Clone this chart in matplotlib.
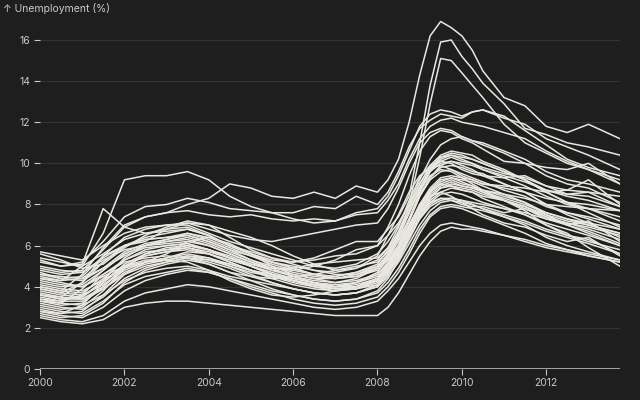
import matplotlib
matplotlib.use("Agg")
import matplotlib.pyplot as plt
import matplotlib.dates as mdates
import pandas as pd

# ---- data ----
dates = ["2000-01", "2000-07", "2001-01", "2001-07", "2002-01", "2002-07",
         "2003-01", "2003-07", "2004-01", "2004-07", "2005-01", "2005-07",
         "2006-01", "2006-07", "2007-01", "2007-07", "2008-01", "2008-04",
         "2008-07", "2008-10", "2009-01", "2009-04", "2009-07", "2009-10",
         "2010-01", "2010-04", "2010-07", "2011-01", "2011-07", "2012-01",
         "2012-07", "2013-01", "2013-10"]

peak_1 = [4.0, 3.8, 4.6, 5.9, 7.0, 7.4, 7.6, 8.0, 8.3, 9.0, 8.8, 8.4, 8.3, 8.6, 8.3, 8.9, 8.6, 9.2,
          10.2, 12.0, 14.3, 16.2, 16.9, 16.6, 16.2, 15.5, 14.5, 13.2, 12.8, 11.8, 11.5, 11.9, 11.2]
peak_2 = [3.6, 3.5, 4.2, 5.2, 6.0, 6.3, 6.4, 6.6, 6.4, 6.0, 5.6, 5.3, 5.2, 5.4, 5.8, 6.2, 6.2, 6.8,
          7.4, 8.4, 11.0, 13.8, 15.9, 16.0, 15.2, 14.6, 13.9, 12.9, 11.7, 11.4, 11.0, 10.8, 10.4]
peak_3 = [3.3, 3.2, 3.9, 4.8, 5.6, 6.0, 6.1, 6.2, 6.0, 5.6, 5.2, 4.9, 4.8, 5.0, 5.3, 5.8, 6.0, 6.5,
          7.1, 8.0, 10.3, 12.9, 15.1, 15.0, 14.4, 13.8, 13.2, 11.9, 11.0, 10.5, 10.0, 9.7, 9.2]
high_1 = [4.4, 4.3, 5.0, 6.6, 9.2, 9.4, 9.4, 9.6, 9.2, 8.4, 7.9, 7.6, 7.3, 7.1, 7.2, 7.6, 7.8, 8.4,
          9.4, 10.6, 11.8, 12.4, 12.6, 12.5, 12.3, 12.5, 12.6, 12.3, 11.6, 10.9, 10.2, 9.8, 9.4]
high_2 = [5.3, 5.0, 5.2, 6.2, 7.4, 7.9, 8.0, 8.3, 8.1, 7.8, 7.7, 7.6, 7.6, 7.9, 7.8, 8.4, 8.0, 8.6,
          9.6, 10.8, 11.7, 12.1, 12.4, 12.3, 12.2, 12.5, 12.6, 12.2, 11.9, 11.2, 10.8, 10.4, 9.7]
high_3 = [4.9, 4.7, 4.8, 5.8, 6.9, 7.4, 7.6, 7.7, 7.5, 7.4, 7.5, 7.3, 7.2, 7.3, 7.2, 7.5, 7.6, 8.2,
          9.0, 10.2, 11.2, 11.8, 12.1, 12.2, 12.0, 11.9, 11.8, 11.5, 11.2, 10.6, 10.1, 9.7, 9.0]
high_4 = [4.6, 4.4, 4.5, 5.5, 6.4, 6.8, 7.0, 7.1, 6.8, 6.5, 6.3, 6.2, 6.4, 6.6, 6.8, 7.0, 7.1, 7.8,
          8.8, 10.0, 11.0, 11.5, 11.7, 11.6, 11.3, 11.1, 11.0, 10.6, 10.2, 9.6, 9.2, 9.0, 8.6]
mid_01 = [5.7, 5.5, 5.3, 6.0, 6.6, 6.9, 7.0, 7.0, 6.6, 6.2, 5.9, 5.6, 5.3, 5.0, 4.9, 5.1, 5.6, 6.2,
          7.0, 8.0, 9.2, 10.2, 10.9, 11.2, 11.3, 11.1, 10.9, 10.5, 10.0, 9.4, 9.0, 8.8, 8.1]
mid_02 = [5.4, 5.2, 5.0, 5.6, 6.3, 6.6, 6.8, 6.9, 6.5, 6.0, 5.7, 5.4, 5.1, 4.8, 4.7, 4.9, 5.3, 5.9,
          6.6, 7.6, 8.8, 9.7, 10.3, 10.5, 10.4, 10.2, 10.0, 9.6, 9.2, 8.7, 8.4, 8.2, 7.7]
mid_03 = [5.2, 5.0, 5.1, 7.8, 6.9, 6.6, 6.7, 6.8, 6.5, 6.0, 5.6, 5.2, 4.9, 4.6, 4.5, 4.7, 5.0, 5.6,
          6.3, 7.3, 8.5, 9.3, 9.8, 9.9, 9.8, 9.6, 9.5, 9.0, 8.6, 8.0, 7.6, 7.3, 6.8]
mid_04 = [5.0, 4.8, 4.7, 5.4, 6.0, 6.3, 6.4, 6.5, 6.2, 5.8, 5.5, 5.2, 5.0, 4.8, 4.6, 4.6, 4.9, 5.4,
          6.2, 7.2, 8.4, 9.2, 9.6, 9.7, 9.5, 9.3, 9.1, 8.7, 8.4, 7.9, 7.6, 7.4, 7.0]
mid_05 = [4.8, 4.6, 4.7, 5.3, 5.8, 6.0, 6.2, 6.4, 6.1, 5.7, 5.3, 5.0, 4.7, 4.5, 4.4, 4.5, 4.8, 5.3,
          5.9, 6.8, 7.8, 8.6, 9.0, 9.2, 9.0, 8.9, 8.7, 8.4, 8.1, 7.6, 7.3, 7.0, 6.6]
mid_06 = [4.7, 4.4, 4.3, 4.9, 5.7, 6.1, 6.3, 6.6, 6.3, 5.9, 5.5, 5.1, 4.8, 4.6, 4.5, 4.7, 5.1, 5.8,
          6.7, 7.9, 9.0, 9.8, 10.3, 10.4, 10.2, 10.0, 9.7, 9.3, 8.9, 8.4, 8.0, 7.8, 7.4]
mid_07 = [4.5, 4.3, 4.4, 5.2, 6.0, 6.4, 6.6, 6.8, 6.5, 6.0, 5.6, 5.2, 4.9, 4.6, 4.4, 4.5, 4.9, 5.5,
          6.4, 7.6, 8.8, 9.7, 10.1, 10.3, 10.1, 10.0, 9.8, 9.5, 9.3, 8.9, 8.7, 8.6, 8.4]
mid_08 = [4.4, 4.2, 4.0, 4.6, 5.3, 5.7, 5.8, 6.0, 5.8, 5.5, 5.1, 4.8, 4.6, 4.4, 4.2, 4.3, 4.6, 5.1,
          5.8, 6.7, 7.7, 8.5, 8.9, 9.1, 8.9, 8.8, 8.7, 8.5, 8.3, 8.0, 7.9, 7.8, 7.7]
mid_09 = [4.2, 4.0, 4.1, 4.8, 5.6, 6.0, 6.2, 6.3, 6.0, 5.6, 5.2, 4.8, 4.5, 4.2, 4.0, 4.2, 4.6, 5.2,
          6.0, 7.2, 8.4, 9.3, 9.9, 10.1, 10.0, 9.9, 9.7, 9.4, 9.1, 8.7, 8.5, 8.4, 7.9]
mid_10 = [4.1, 3.9, 3.8, 4.3, 5.0, 5.5, 5.7, 5.8, 5.6, 5.3, 5.0, 4.7, 4.4, 4.2, 4.0, 4.0, 4.3, 4.8,
          5.5, 6.4, 7.4, 8.2, 8.6, 8.8, 8.7, 8.6, 8.4, 8.2, 7.9, 7.5, 7.2, 7.0, 6.6]
mid_11 = [4.0, 3.8, 3.7, 4.4, 5.3, 5.8, 6.0, 6.1, 5.8, 5.4, 5.0, 4.6, 4.3, 4.1, 3.9, 4.0, 4.4, 5.0,
          5.8, 6.9, 8.0, 8.8, 9.3, 9.4, 9.3, 9.2, 9.0, 8.8, 8.6, 8.3, 8.1, 8.0, 7.7]
mid_12 = [3.9, 3.7, 3.6, 4.1, 4.8, 5.2, 5.3, 5.5, 5.3, 5.0, 4.7, 4.5, 4.3, 4.1, 4.0, 4.1, 4.4, 4.9,
          5.6, 6.6, 7.6, 8.4, 8.8, 9.0, 8.9, 8.8, 8.6, 8.3, 8.0, 7.6, 7.3, 7.1, 6.8]
mid_13 = [3.8, 3.6, 3.5, 4.2, 5.1, 5.6, 5.8, 5.9, 5.6, 5.2, 4.8, 4.4, 4.1, 3.9, 3.8, 3.9, 4.2, 4.7,
          5.4, 6.4, 7.5, 8.3, 8.8, 8.9, 8.8, 8.7, 8.5, 8.2, 7.9, 7.4, 7.1, 6.8, 6.3]
mid_14 = [3.7, 3.5, 3.4, 3.9, 4.6, 5.0, 5.2, 5.4, 5.3, 5.1, 4.8, 4.6, 4.4, 4.2, 4.1, 4.2, 4.5, 5.0,
          5.6, 6.5, 7.3, 7.9, 8.2, 8.3, 8.2, 8.1, 8.0, 7.8, 7.6, 7.3, 7.1, 6.9, 6.5]
mid_15 = [3.6, 3.4, 3.5, 4.3, 5.4, 6.0, 6.3, 6.5, 6.2, 5.8, 5.3, 4.9, 4.5, 4.3, 4.2, 4.4, 4.9, 5.6,
          6.6, 7.8, 9.0, 9.9, 10.4, 10.6, 10.5, 10.4, 10.1, 9.7, 9.2, 8.6, 8.1, 7.8, 7.2]
mid_16 = [3.5, 3.3, 3.3, 3.9, 4.7, 5.1, 5.3, 5.5, 5.4, 5.1, 4.8, 4.5, 4.3, 4.1, 3.9, 4.0, 4.3, 4.9,
          5.7, 6.8, 7.9, 8.7, 9.2, 9.3, 9.1, 8.9, 8.6, 8.2, 7.8, 7.3, 7.0, 6.7, 6.1]
mid_17 = [3.4, 3.2, 3.1, 3.6, 4.3, 4.7, 4.9, 5.0, 4.8, 4.5, 4.3, 4.1, 3.9, 3.7, 3.6, 3.7, 4.0, 4.5,
          5.2, 6.1, 7.0, 7.7, 8.1, 8.2, 8.1, 8.0, 7.8, 7.5, 7.2, 6.8, 6.5, 6.2, 5.8]
mid_18 = [3.3, 3.1, 3.2, 4.0, 5.0, 5.5, 5.7, 5.9, 5.7, 5.4, 5.0, 4.6, 4.3, 4.0, 3.8, 3.9, 4.3, 5.0,
          6.0, 7.3, 8.6, 9.6, 10.2, 10.4, 10.3, 10.2, 10.0, 9.6, 9.2, 8.6, 8.1, 7.6, 6.9]
mid_19 = [5.6, 5.3, 4.9, 5.1, 5.9, 6.5, 6.9, 7.2, 7.0, 6.4, 5.8, 5.4, 5.2, 5.3, 5.5, 5.6, 6.0, 6.9,
          8.0, 9.4, 10.6, 11.3, 11.6, 11.5, 11.2, 11.0, 10.7, 10.1, 10.0, 9.8, 9.7, 10.0, 9.0]
mid_20 = [3.9, 3.7, 4.2, 5.5, 6.0, 6.2, 6.8, 7.1, 7.0, 6.7, 6.4, 6.0, 5.5, 5.1, 4.8, 4.9, 5.5, 6.5,
          7.5, 8.6, 9.4, 9.8, 9.9, 9.7, 9.4, 9.2, 9.0, 8.9, 8.8, 8.6, 8.7, 9.2, 8.0]
mid_21 = [4.3, 4.1, 4.0, 4.5, 5.0, 5.2, 5.6, 6.2, 6.4, 6.1, 5.6, 5.0, 4.6, 4.4, 4.4, 4.6, 5.0, 5.4,
          6.0, 6.8, 7.6, 8.1, 8.3, 8.2, 8.0, 7.9, 7.9, 7.6, 7.8, 7.4, 7.0, 7.2, 6.2]
mid_22 = [3.4, 3.3, 3.6, 4.6, 5.2, 5.4, 5.5, 5.4, 5.1, 4.7, 4.5, 4.4, 4.5, 4.6, 4.8, 5.0, 5.2, 5.7,
          6.5, 7.6, 8.7, 9.4, 9.7, 9.6, 9.3, 9.0, 8.7, 8.2, 7.7, 7.0, 6.5, 6.3, 5.6]
mid_23 = [4.6, 4.5, 4.4, 4.9, 5.5, 5.9, 6.0, 6.1, 5.8, 5.4, 5.1, 4.9, 4.9, 5.1, 5.2, 5.3, 5.4, 5.9,
          6.9, 8.2, 9.3, 9.9, 10.1, 10.0, 9.7, 9.5, 9.4, 9.3, 9.4, 8.9, 8.5, 8.6, 7.9]
low_01 = [3.2, 3.0, 2.9, 3.5, 4.4, 4.9, 5.2, 5.4, 5.2, 4.9, 4.5, 4.2, 3.9, 3.7, 3.6, 3.7, 4.1, 4.7,
          5.5, 6.6, 7.7, 8.6, 9.1, 9.3, 9.2, 9.1, 8.9, 8.5, 8.1, 7.5, 7.0, 6.6, 6.0]
low_02 = [3.1, 2.9, 3.0, 3.8, 4.9, 5.6, 5.9, 6.0, 5.8, 5.4, 5.0, 4.6, 4.3, 4.1, 4.0, 4.2, 4.7, 5.4,
          6.4, 7.6, 8.8, 9.6, 10.0, 10.1, 9.9, 9.7, 9.4, 9.0, 8.6, 8.0, 7.5, 7.1, 6.4]
low_03 = [3.0, 2.8, 2.7, 3.3, 4.1, 4.5, 4.7, 4.9, 4.7, 4.4, 4.1, 3.8, 3.6, 3.4, 3.3, 3.4, 3.7, 4.2,
          4.9, 5.8, 6.8, 7.5, 7.9, 8.0, 7.9, 7.8, 7.7, 7.4, 7.1, 6.7, 6.4, 6.1, 5.6]
low_04 = [2.9, 2.7, 2.8, 3.6, 4.6, 5.2, 5.4, 5.6, 5.4, 5.0, 4.6, 4.2, 3.9, 3.7, 3.6, 3.7, 4.0, 4.6,
          5.4, 6.4, 7.4, 8.1, 8.5, 8.6, 8.5, 8.3, 8.1, 7.8, 7.5, 7.1, 6.8, 6.5, 6.0]
low_05 = [2.8, 2.6, 2.5, 3.0, 3.8, 4.3, 4.6, 4.8, 4.7, 4.4, 4.0, 3.7, 3.4, 3.2, 3.1, 3.2, 3.5, 4.0,
          4.7, 5.6, 6.6, 7.4, 7.8, 7.9, 7.8, 7.6, 7.4, 7.0, 6.6, 6.1, 5.8, 5.5, 5.2]
low_06 = [2.7, 2.5, 2.6, 3.2, 4.2, 4.8, 5.1, 5.3, 5.1, 4.7, 4.3, 3.9, 3.6, 3.4, 3.3, 3.4, 3.8, 4.4,
          5.3, 6.3, 7.3, 8.0, 8.3, 8.3, 8.2, 8.0, 7.8, 7.4, 7.0, 6.4, 6.0, 5.7, 5.3]
low_07 = [2.6, 2.4, 2.3, 2.6, 3.3, 3.7, 3.9, 4.1, 4.0, 3.8, 3.6, 3.4, 3.2, 3.0, 2.9, 3.0, 3.3, 3.8,
          4.4, 5.2, 6.0, 6.6, 7.0, 7.1, 7.0, 6.9, 6.8, 6.5, 6.3, 6.0, 5.8, 5.6, 5.3]
low_08 = [2.5, 2.3, 2.2, 2.4, 3.0, 3.2, 3.3, 3.3, 3.2, 3.1, 3.0, 2.9, 2.8, 2.7, 2.6, 2.6, 2.6, 3.0,
          3.7, 4.6, 5.5, 6.2, 6.7, 6.9, 6.8, 6.8, 6.7, 6.5, 6.2, 5.9, 5.7, 5.5, 5.2]
low_09 = [2.8, 2.7, 3.1, 4.2, 5.0, 5.3, 5.3, 5.2, 4.8, 4.3, 3.9, 3.6, 3.5, 3.6, 3.8, 4.0, 4.4, 5.1,
          6.0, 7.0, 7.9, 8.4, 8.6, 8.4, 8.1, 7.8, 7.5, 7.1, 6.9, 6.5, 6.2, 6.4, 5.5]
low_10 = [3.6, 3.4, 3.4, 4.0, 4.9, 5.2, 5.4, 5.7, 5.6, 5.2, 4.8, 4.5, 4.2, 4.0, 3.9, 3.9, 4.1, 4.8,
          5.8, 7.0, 8.0, 8.7, 9.0, 8.9, 8.7, 8.6, 8.3, 7.9, 7.5, 7.0, 6.6, 5.9, 5.0]

series = [peak_1, peak_2, peak_3, high_1, high_2, high_3, high_4,
          mid_01, mid_02, mid_03, mid_04, mid_05, mid_06, mid_07, mid_08, mid_09,
          mid_10, mid_11, mid_12, mid_13, mid_14, mid_15, mid_16, mid_17, mid_18,
          mid_19, mid_20, mid_21, mid_22, mid_23,
          low_01, low_02, low_03, low_04, low_05, low_06, low_07, low_08, low_09, low_10]

y_ticks = [0, 2, 4, 6, 8, 10, 12, 14, 16]
y_label = "↑ Unemployment (%)"

# ---- style ----
BG = "#1e1e1e"
FG = "#c9c9c9"
LINE = "#e8e7e0"
GRID = "#333333"

plt.rcParams["font.family"] = ["Inter", "DejaVu Sans"]

x = pd.to_datetime(dates)

fig = plt.figure(figsize=(6.4, 4.0), dpi=100, facecolor=BG)
ax = fig.add_axes([40 / 640, 1 - 369 / 400, 580 / 640, 349 / 400])
ax.set_facecolor(BG)

for yt in y_ticks[1:]:
    ax.axhline(yt, color=GRID, lw=0.8, zorder=0)

for s in series:
    ax.plot(x, s, color=LINE, lw=1.1, solid_joinstyle="round", zorder=2)

ax.axhline(0, color=FG, lw=1.1, zorder=3)

ax.set_xlim(x[0], x[-1])
ax.set_ylim(0, 349 / 20.5625)

for sp in ax.spines.values():
    sp.set_visible(False)

ax.set_yticks(y_ticks)
ax.set_yticklabels([str(v) for v in y_ticks])
ax.xaxis.set_major_locator(mdates.YearLocator(2))
ax.xaxis.set_major_formatter(mdates.DateFormatter("%Y"))

ax.tick_params(axis="both", colors=FG, labelsize=7.5, width=0.8, length=4.5, pad=2.5)
ax.tick_params(axis="x", pad=2)

fig.text(3 / 640, 1 - 9 / 400, y_label, color=FG, fontsize=7.5, va="center", ha="left")

fig.savefig("out.png", dpi=100, facecolor=BG)
